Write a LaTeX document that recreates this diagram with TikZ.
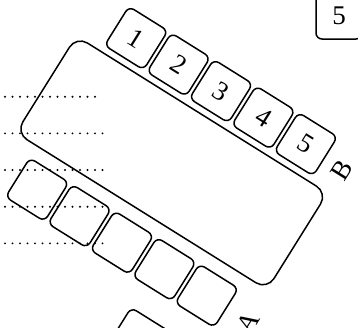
\documentclass[tikz,border=0pt]{standalone}
\usepackage{fontspec}
\setmainfont{Liberation Serif}
\usepackage{tikz}
\usetikzlibrary{positioning}
\tikzset{
  slot/.style={draw=black,rounded corners=6pt,minimum size=46pt,inner sep=0pt,line width=1.5pt,
    font=\fontsize{27}{32}\selectfont},
  tray/.style={draw=black,rounded corners=13pt,minimum width=296pt,minimum height=114pt,
    inner sep=0pt,line width=1.5pt},
  rowlabel/.style={inner sep=0pt,font=\fontsize{27}{32}\selectfont,rotate=90},
  guide/.style={line width=2.1pt,line cap=round,dash pattern=on 0pt off 7.5pt},
}

\begin{document}
\begin{tikzpicture}[x=1pt,y=1pt]
    \useasboundingbox (0,-327) rectangle (358,0);
    \clip (0,-327) rectangle (358,0);

    \foreach \y/\len in {96.7/96,133.3/103,170/103,206.7/103,243.3/103}
      \draw[guide] (5,-\y) -- (\len,-\y);

    \node[slot] (spare) at (339,-16) {5};

    \begin{scope}[shift={(171.7,-162.9)},rotate=-32,transform shape]
      \node[tray] (tray) at (0,0) {};
      \foreach \i in {1,...,5}
        \node[slot] (b\i) at ({-146.2+50*\i},87) {\i};
      \foreach \i in {1,...,5}
        \node[slot] (a\i) at ({-149.9+50*\i},-94) {};
      \node[rowlabel] (labelB) at (148,84) {B};
      \node[rowlabel] (labelA) at (150,-95) {A};
      \node[slot] (c1) at (65.3,-167.2) {};
    \end{scope}
  \end{tikzpicture}
\end{document}
